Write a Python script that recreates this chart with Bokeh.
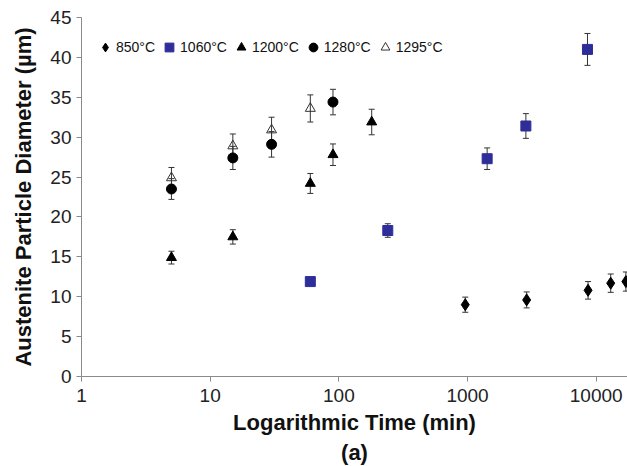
from bokeh.plotting import figure
from bokeh.models import (ColumnDataSource, Whisker, TeeHead, Legend, LegendItem,
                          FixedTicker, Title, Range1d, NumeralTickFormatter)
from bokeh.embed import file_html
from bokeh.resources import INLINE

# ---- data ----
t850 = [960, 2880, 8640, 12960, 17000]
d850 = [9.0, 9.6, 10.8, 11.7, 11.9]
e850 = [0.95, 1.0, 1.1, 1.15, 1.2]

t1060 = [60, 240, 1420, 2840, 8550]
d1060 = [11.9, 18.3, 27.3, 31.4, 41.0]
e1060 = [0.5, 0.85, 1.35, 1.55, 2.0]

t1200 = [5, 15, 60, 90, 180]
d1200 = [14.9, 17.5, 24.2, 27.8, 31.9]
e1200 = [0.8, 0.9, 1.25, 1.35, 1.6]

t1280 = [5, 15, 30, 90]
d1280 = [23.5, 27.4, 29.1, 34.4]
e1280 = [1.3, 1.45, 1.6, 1.6]

t1295 = [5, 15, 30, 60]
d1295 = [24.9, 28.9, 30.9, 33.6]
e1295 = [1.3, 1.5, 1.6, 1.7]

labels = ["850°C", "1060°C", "1200°C", "1280°C", "1295°C"]
x_ticks = [1, 10, 100, 1000, 10000]
y_ticks = [0, 5, 10, 15, 20, 25, 30, 35, 40, 45]

FONT = "Liberation Sans"
W, H = 627, 466
LEFT, TOP, BOTTOM = 81, 17, 90

p = figure(width=W, height=H, x_axis_type="log",
           x_range=Range1d(1, 17500), y_range=Range1d(0, 45),
           output_backend="svg", toolbar_location=None,
           min_border_left=LEFT, min_border_right=0, min_border_top=TOP,
           min_border_bottom=BOTTOM)
p.outline_line_color = None
p.xgrid.grid_line_color = None
p.ygrid.grid_line_color = None

for ax in (p.xaxis[0], p.yaxis[0]):
    ax.axis_line_color = "#8a8a8a"
    ax.major_tick_line_color = "#8a8a8a"
    ax.minor_tick_line_color = None
    ax.major_tick_in = 0
    ax.major_tick_out = 5
    ax.major_label_text_font = FONT
    ax.major_label_text_font_size = "19px"
    ax.major_label_text_color = "#222222"
    ax.axis_label_text_font = FONT
    ax.axis_label_text_font_size = "22px"
    ax.axis_label_text_font_style = "bold"
    ax.axis_label_text_color = "#111111"

p.xaxis.ticker = FixedTicker(ticks=x_ticks, minor_ticks=[])
p.xaxis.formatter = NumeralTickFormatter(format="0")
p.yaxis.ticker = FixedTicker(ticks=y_ticks, minor_ticks=[])
p.xaxis.axis_label = "Logarithmic Time (min)"
p.yaxis.axis_label = "Austenite Particle Diameter (\u00b5m)"
p.xaxis.major_label_standoff = 7
p.xaxis.axis_label_standoff = 5
p.yaxis.major_label_standoff = 5
p.yaxis.axis_label_standoff = 11

series = [
    (t850, d850, e850, "diamond", 12, "black", "black", 1.0),
    (t1060, d1060, e1060, "square", 10, "#2e2e9a", "#2e2e9a", 1.0),
    (t1200, d1200, e1200, "triangle", 10, "black", "black", 1.0),
    (t1280, d1280, e1280, "circle", 10, "black", "black", 1.0),
    (t1295, d1295, e1295, "triangle", 10, "white", "#333333", 0.0),
]

items = []
for (t, d, e, marker, size, fill, line, falpha), lab in zip(series, labels):
    src = ColumnDataSource(dict(x=t, y=d,
                                upper=[a + b for a, b in zip(d, e)],
                                lower=[a - b for a, b in zip(d, e)]))
    w = Whisker(base="x", upper="upper", lower="lower", source=src,
                line_color="#333333", line_width=1, level="underlay",
                upper_head=TeeHead(size=6, line_color="#333333", line_width=1),
                lower_head=TeeHead(size=6, line_color="#333333", line_width=1))
    p.add_layout(w)
    r = p.scatter("x", "y", source=src, marker=marker, size=size,
                  fill_color=fill, fill_alpha=falpha, line_color=line, line_width=1)
    items.append(LegendItem(label=lab, renderers=[r]))

legend = Legend(items=items, orientation="horizontal", location=(13, 318),
                glyph_width=22, glyph_height=22, label_standoff=0, spacing=3,
                padding=0, margin=0, background_fill_alpha=0, border_line_alpha=0,
                label_text_font=FONT, label_text_font_size="14px",
                label_text_color="#111111", label_height=22)
p.add_layout(legend, "center")

p.add_layout(Title(text="(a)", align="center", standoff=0, text_font=FONT,
                   text_font_size="22px", text_font_style="bold",
                   text_color="#111111"), "below")

with open("out.html", "w", encoding="utf-8") as f:
    f.write(file_html(p, INLINE))
